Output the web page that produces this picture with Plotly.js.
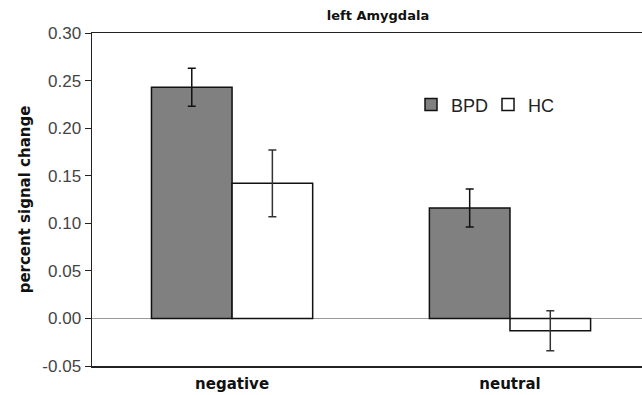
<!DOCTYPE html>
<html>
<head>
<meta charset="utf-8">
<script src="https://cdn.plot.ly/plotly-3.0.1.min.js"></script>
<style>html,body{margin:0;padding:0;background:#fff;}#chart{width:642px;height:395px;}</style>
</head>
<body>
<div id="chart"></div>
<script>
const categories = ["negative", "neutral"];
const bpdValues = [0.243, 0.116];
const bpdErrors = [0.020, 0.020];
const hcValues = [0.142, -0.013];
const hcErrors = [0.035, 0.021];
const yTicks = [-0.05, 0.00, 0.05, 0.10, 0.15, 0.20, 0.25, 0.30];
const yTickLabels = ["-0.05", "0.00", "0.05", "0.10", "0.15", "0.20", "0.25", "0.30"];

const sans = "Liberation Sans, Arial, sans-serif";
const boldFont = "DejaVu Sans, sans-serif";

const traces = [
  {
    type: "bar", name: "BPD", x: categories, y: bpdValues,
    marker: {color: "#808080", line: {color: "#111", width: 1.5}},
    error_y: {type: "data", array: bpdErrors, visible: true, color: "#111", thickness: 1.5, width: 4}
  },
  {
    type: "bar", name: "HC", x: categories, y: hcValues,
    marker: {color: "#ffffff", line: {color: "#111", width: 1.5}},
    error_y: {type: "data", array: hcErrors, visible: true, color: "#333", thickness: 1.5, width: 4}
  }
];

const layout = {
  width: 642, height: 395,
  margin: {l: 92, r: 0, t: 33, b: 29},
  paper_bgcolor: "#fff", plot_bgcolor: "#fff",
  barmode: "group", bargap: 0.42, bargroupgap: 0,
  showlegend: true,
  legend: {orientation: "h", x: 0.58, y: 0.84, xanchor: "left", yanchor: "top",
           font: {family: sans, size: 18, color: "#222"}, itemwidth: 30,
           entrywidth: 32, entrywidthmode: "pixels", bgcolor: "rgba(0,0,0,0)"},
  title: {text: "<b>left Amygdala</b>", font: {family: boldFont, size: 13, color: "#111"},
          xref: "paper", x: 0.52, xanchor: "center", yref: "container", y: 0.962, yanchor: "middle"},
  xaxis: {
    range: [-0.504, 1.475], showline: true, mirror: true, linecolor: "#222", linewidth: 1.5,
    ticks: "", showgrid: false, zeroline: false, ticklabelstandoff: 3,
    tickfont: {family: boldFont, size: 15, color: "#111"},
    tickvals: categories, ticktext: categories.map(c => "<b>" + c + "</b>")
  },
  yaxis: {
    range: [-0.05, 0.30], tickvals: yTicks, ticktext: yTickLabels,
    showline: true, linecolor: "#222", linewidth: 1.5, mirror: false,
    ticks: "outside", ticklen: 6, tickcolor: "#222",
    showgrid: false, zeroline: true, zerolinecolor: "#999", zerolinewidth: 1,
    tickfont: {family: sans, size: 17, color: "#444"},
    title: {text: "<b>percent signal change</b>", font: {family: boldFont, size: 15, color: "#111"}, standoff: 8}
  }
};

Plotly.newPlot("chart", traces, layout, {displayModeBar: false, staticPlot: true});
</script>
</body>
</html>
